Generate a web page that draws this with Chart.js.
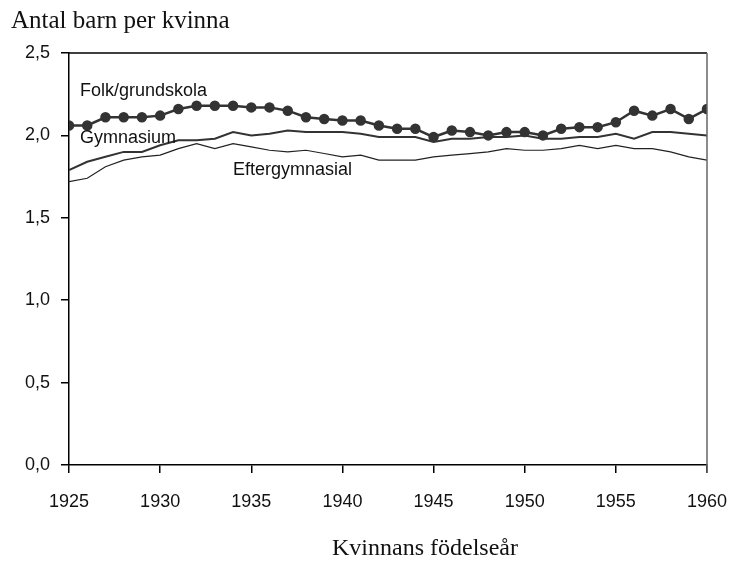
<!DOCTYPE html>
<html>
<head>
<meta charset="utf-8">
<script src="https://cdn.jsdelivr.net/npm/chart.js@4"></script>
<style>
  body { margin: 0; background: #fff; }
  #wrap { width: 734px; height: 563px; }
</style>
</head>
<body>
<div id="wrap"><canvas id="chart"></canvas></div>
<script>
var years = [];
for (var y = 1925; y <= 1960; y++) years.push(y);

var folk = [2.06, 2.06, 2.11, 2.11, 2.11, 2.12, 2.16, 2.18, 2.18, 2.18, 2.17, 2.17,
            2.15, 2.11, 2.10, 2.09, 2.09, 2.06, 2.04, 2.04, 1.99, 2.03, 2.02, 2.00,
            2.02, 2.02, 2.00, 2.04, 2.05, 2.05, 2.08, 2.15, 2.12, 2.16, 2.10, 2.16];
var gymnasium = [1.79, 1.84, 1.87, 1.90, 1.90, 1.94, 1.97, 1.97, 1.98, 2.02, 2.00, 2.01,
                 2.03, 2.02, 2.02, 2.02, 2.01, 1.99, 1.99, 1.99, 1.96, 1.98, 1.98, 1.99,
                 1.99, 2.00, 1.98, 1.98, 1.99, 1.99, 2.01, 1.98, 2.02, 2.02, 2.01, 2.00];
var efter = [1.72, 1.74, 1.81, 1.85, 1.87, 1.88, 1.92, 1.95, 1.92, 1.95, 1.93, 1.91,
             1.90, 1.91, 1.89, 1.87, 1.88, 1.85, 1.85, 1.85, 1.87, 1.88, 1.89, 1.90,
             1.92, 1.91, 1.91, 1.92, 1.94, 1.92, 1.94, 1.92, 1.92, 1.90, 1.87, 1.85];

var yTicks = [0, 0.5, 1.0, 1.5, 2.0, 2.5];
var xTicks = [1925, 1930, 1935, 1940, 1945, 1950, 1955, 1960];

function pts(arr) {
    return arr.map(function (v, i) { return { x: years[i], y: v }; });
}

var tickFont = { family: '"Liberation Sans", Arial, sans-serif', size: 18 };

var textPlugin = {
    id: 'texts',
    afterDraw: function (chart) {
        var c = chart.ctx, a = chart.chartArea;
        c.save();
        // frame
        c.strokeStyle = '#000';
        c.lineWidth = 1.5;
        c.beginPath();
        c.moveTo(a.left, a.top);
        c.lineTo(a.right, a.top);
        c.stroke();
        c.strokeStyle = '#666';
        c.beginPath();
        c.moveTo(a.right, a.top);
        c.lineTo(a.right, a.bottom + 8);
        c.stroke();

        c.fillStyle = '#111';
        c.textBaseline = 'alphabetic';
        c.textAlign = 'left';
        c.font = '25px "Liberation Serif", "Times New Roman", serif';
        c.fillText('Antal barn per kvinna', 11, 28);
        c.font = '24px "Liberation Serif", "Times New Roman", serif';
        c.fillText('Kvinnans födelseår', 332, 555);

        c.font = '18px "Liberation Sans", Arial, sans-serif';
        c.fillText('Folk/grundskola', 80, 96);
        c.fillText('Gymnasium', 80, 143);
        c.fillText('Eftergymnasial', 233, 175);
        c.restore();
    }
};

new Chart(document.getElementById('chart'), {
    type: 'line',
    data: {
        datasets: [{
            label: 'Folk/grundskola',
            data: pts(folk),
            borderColor: '#333',
            backgroundColor: '#333',
            borderWidth: 2.5,
            pointRadius: 4,
            pointHoverRadius: 4,
            tension: 0
        }, {
            label: 'Gymnasium',
            data: pts(gymnasium),
            borderColor: '#333',
            borderWidth: 2,
            pointRadius: 0,
            tension: 0
        }, {
            label: 'Eftergymnasial',
            data: pts(efter),
            borderColor: '#222',
            borderWidth: 1.2,
            pointRadius: 0,
            tension: 0
        }]
    },
    options: {
        responsive: true,
        maintainAspectRatio: false,
        animation: false,
        plugins: {
            legend: { display: false },
            tooltip: { enabled: false }
        },
        layout: {
            padding: { left: 10, right: 27, top: 53, bottom: 0 }
        },
        scales: {
            x: {
                type: 'linear',
                min: 1925,
                max: 1960,
                afterBuildTicks: function (s) {
                    s.ticks = xTicks.map(function (v) { return { value: v }; });
                },
                afterFit: function (s) {
                    s.height = 98;
                    s.paddingLeft = 0;
                    s.paddingRight = 0;
                },
                grid: {
                    drawOnChartArea: false,
                    drawTicks: true,
                    tickLength: 8,
                    color: '#000',
                    lineWidth: 1.5
                },
                border: { color: '#000', width: 1.5 },
                ticks: {
                    color: '#111',
                    font: tickFont,
                    padding: 18,
                    maxRotation: 0,
                    callback: function (v) { return String(v); }
                }
            },
            y: {
                min: 0,
                max: 2.5,
                afterBuildTicks: function (s) {
                    s.ticks = yTicks.map(function (v) { return { value: v }; });
                },
                afterFit: function (s) {
                    s.width = 59;
                    s.paddingTop = 0;
                    s.paddingBottom = 0;
                },
                grid: {
                    drawOnChartArea: false,
                    drawTicks: true,
                    tickLength: 8,
                    color: '#000',
                    lineWidth: 1.5
                },
                border: { color: '#000', width: 1.5 },
                ticks: {
                    color: '#111',
                    font: tickFont,
                    padding: 11,
                    callback: function (v) { return v.toFixed(1).replace('.', ','); }
                }
            }
        }
    },
    plugins: [textPlugin]
});
</script>
</body>
</html>
